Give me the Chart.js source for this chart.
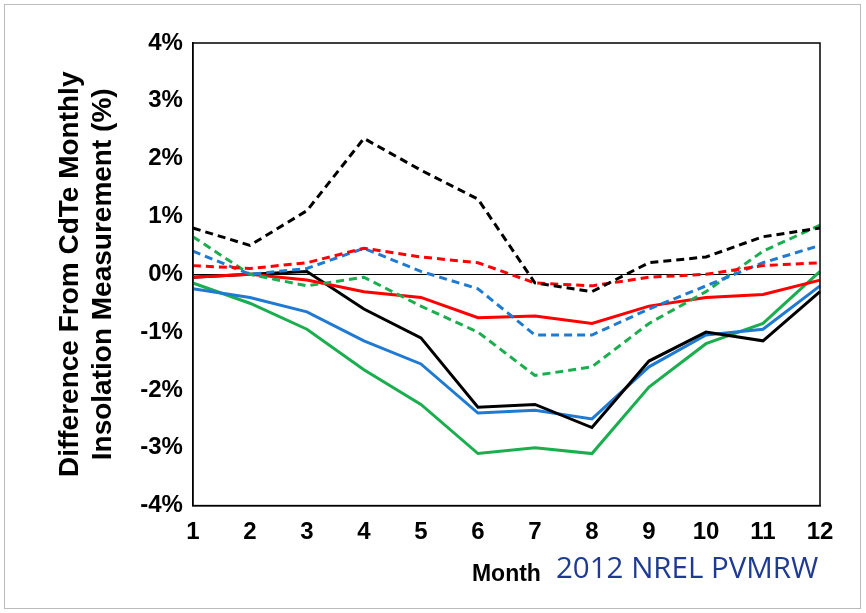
<!DOCTYPE html>
<html><head>
<script src="https://cdn.jsdelivr.net/npm/chart.js@4"></script>
<style>
body{margin:0;background:#fff;font-family:"Liberation Sans",Arial,sans-serif;}
#wrap{position:absolute;left:4px;top:4px;width:855px;height:603px;border:1px solid #bbb;}
#c{position:absolute;left:0;top:0;}
#note{position:absolute;left:556px;top:546px;font-family:"Open Sans",sans-serif;font-size:29.5px;color:#1f3a93;}
</style></head>
<body>
<div id="wrap"><canvas id="c" width="855" height="603"></canvas></div>
<div id="note">2012 NREL PVMRW</div>
<script>
const months = ['1','2','3','4','5','6','7','8','9','10','11','12'];
const blackDash = [0.8,0.5,1.1,2.35,1.8,1.3,-0.15,-0.3,0.2,0.3,0.65,0.8];
const blackSolid = [-0.05,0.0,0.05,-0.6,-1.1,-2.3,-2.25,-2.65,-1.5,-1.0,-1.15,-0.3];
const redDash = [0.15,0.1,0.2,0.45,0.3,0.2,-0.15,-0.2,-0.05,0.0,0.15,0.2];
const redSolid = [-0.05,0.0,-0.1,-0.3,-0.4,-0.75,-0.72,-0.85,-0.55,-0.4,-0.35,-0.1];
const blueDash = [0.4,0.0,0.1,0.45,0.05,-0.25,-1.05,-1.05,-0.6,-0.2,0.2,0.5];
const blueSolid = [-0.25,-0.4,-0.65,-1.15,-1.55,-2.4,-2.35,-2.5,-1.6,-1.05,-0.95,-0.2];
const greenDash = [0.65,0.0,-0.2,-0.05,-0.55,-1.0,-1.75,-1.6,-0.85,-0.3,0.4,0.85];
const greenSolid = [-0.15,-0.5,-0.95,-1.65,-2.25,-3.1,-3.0,-3.1,-1.95,-1.2,-0.85,0.05];

const ds = (data, color, dash) => ({data, borderColor: color, borderWidth: 3, borderDash: dash ? [8,5] : [], pointRadius: 0, tension: 0, fill: false});

new Chart(document.getElementById('c'), {
  type: 'line',
  data: {
    labels: months,
    datasets: [
      ds(blackDash,'#000',true), ds(redDash,'#ff0000',true), ds(blueDash,'#1f7bd1',true), ds(greenDash,'#1aae4f',true),
      ds(redSolid,'#ff0000',false), ds(blackSolid,'#000',false), ds(blueSolid,'#1f7bd1',false), ds(greenSolid,'#1aae4f',false)
    ]
  },
  options: {
    responsive: false, animation: false,
    layout: {padding: {top: 38, right: 40, bottom: 16, left: 44}},
    plugins: {legend: {display: false}, tooltip: {enabled: false}},
    scales: {
      x: {
        offset: false,
        grid: {display: false, drawTicks: false},
        border: {color: '#000', width: 1.5},
        ticks: {color: '#000', font: {size: 24, weight: 'bold'}, padding: 12},
        title: {display: true, text: 'Month', color: '#000', font: {size: 23, weight: 'bold'}, padding: {top: 2}}
      },
      y: {
        min: -4, max: 4,
        grid: {drawOnChartArea: true, color: c => c.tick.value === 0 ? '#000' : 'transparent', lineWidth: 1, drawTicks: false},
        border: {color: '#000', width: 1.5},
        ticks: {stepSize: 1, color: '#000', font: {size: 24, weight: 'bold'}, padding: 10, callback: v => v + '%'},
        title: {display: true, text: ['Difference From CdTe Monthly', 'Insolation Measurement (%)'], color: '#000', font: {size: 28, weight: 'bold'}, padding: {bottom: 10}}
      }
    }
  },
  plugins: [{
    id: 'box',
    afterDraw(chart) {
      const {ctx, chartArea: a} = chart;
      ctx.save(); ctx.strokeStyle = '#000'; ctx.lineWidth = 1.5;
      ctx.strokeRect(a.left, a.top, a.right - a.left, a.bottom - a.top);
      ctx.restore();
    }
  }]
});
</script>
</body></html>
